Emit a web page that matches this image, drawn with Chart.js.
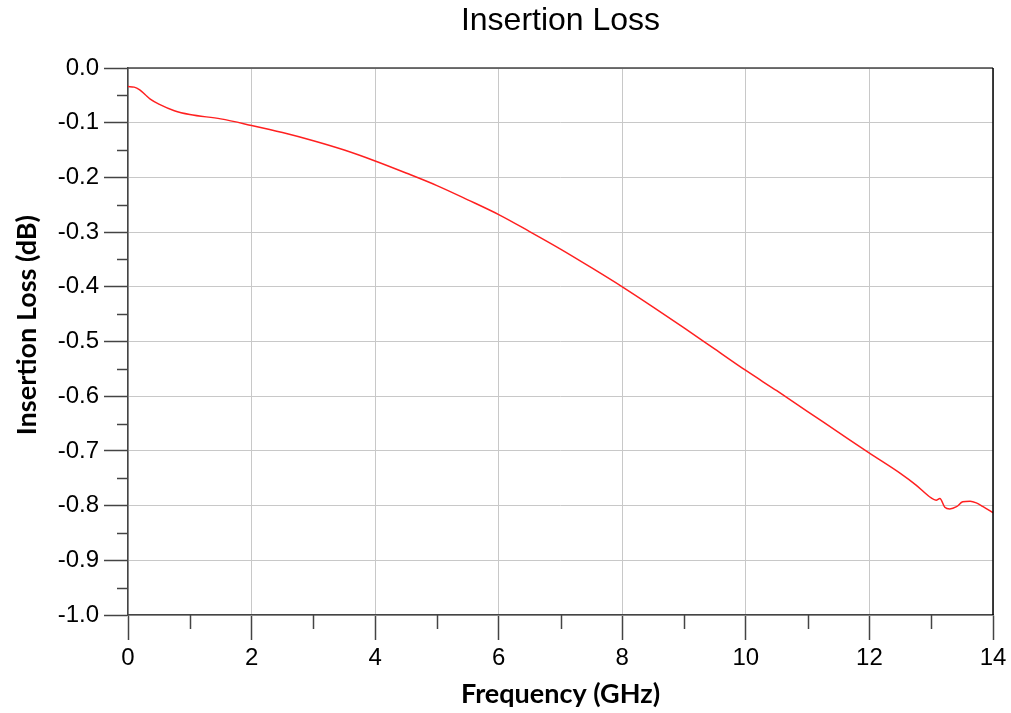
<!DOCTYPE html>
<html>
<head>
<meta charset="utf-8">
<script src="https://cdn.jsdelivr.net/npm/chart.js@4/dist/chart.umd.min.js"></script>
<style>
  html, body { margin: 0; padding: 0; background: #fff; }
  #wrap { width: 1011px; height: 713px; }
</style>
</head>
<body>
<div id="wrap"><canvas id="chart" width="1011" height="713"></canvas></div>
<script>
const freqs = [0, 0.1, 0.19, 0.28, 0.36, 0.5, 0.75, 1, 1.5, 2, 2.5, 3, 3.5, 4, 4.5, 5, 5.5, 6, 6.5, 7, 7.5, 8, 8.5, 9, 9.5, 10, 10.5, 11, 11.5, 12, 12.5, 12.75, 13, 13.08, 13.14, 13.22, 13.3, 13.41, 13.51, 13.63, 13.73, 13.84, 14];
const loss = [-0.034, -0.035, -0.040, -0.049, -0.057, -0.066, -0.078, -0.085, -0.093, -0.105, -0.118, -0.133, -0.150, -0.170, -0.192, -0.215, -0.241, -0.268, -0.299, -0.331, -0.365, -0.400, -0.437, -0.475, -0.514, -0.553, -0.590, -0.628, -0.666, -0.704, -0.741, -0.762, -0.786, -0.790, -0.787, -0.803, -0.806, -0.802, -0.793, -0.792, -0.795, -0.802, -0.813];

const titleText = 'Insertion Loss';
const xTitle = 'Frequency (GHz)';
const yTitle = 'Insertion Loss (dB)';

const points = freqs.map((f, i) => ({ x: f, y: loss[i] }));

const frame = {
  id: 'frame',
  afterDraw(chart) {
    const { ctx, chartArea, scales } = chart;
    const xs = scales.x;
    const ys = scales.y;
    ctx.save();
    ctx.lineWidth = 1.5;
    ctx.strokeStyle = '#444';
    // minor ticks
    for (let v = 1; v < 14; v += 2) {
      const px = Math.round(xs.getPixelForValue(v)) + 0.5;
      ctx.beginPath();
      ctx.moveTo(px, chartArea.bottom);
      ctx.lineTo(px, chartArea.bottom + 14);
      ctx.stroke();
    }
    for (let i = 0; i < 10; i++) {
      const py = Math.round(ys.getPixelForValue(-0.05 - i * 0.1)) + 0.5;
      ctx.beginPath();
      ctx.moveTo(chartArea.left - 11, py);
      ctx.lineTo(chartArea.left, py);
      ctx.stroke();
    }
    // top and right border
    ctx.beginPath();
    ctx.moveTo(chartArea.left, chartArea.top);
    ctx.lineTo(chartArea.right, chartArea.top);
    ctx.stroke();
    ctx.strokeStyle = '#000';
    ctx.beginPath();
    ctx.moveTo(chartArea.right, chartArea.top);
    ctx.lineTo(chartArea.right, chartArea.bottom);
    ctx.stroke();
    ctx.restore();
  }
};

new Chart(document.getElementById('chart'), {
  type: 'line',
  data: {
    datasets: [{
      data: points,
      borderColor: '#ff2020',
      borderWidth: 1.5,
      pointRadius: 0,
      fill: false,
      cubicInterpolationMode: 'monotone'
    }]
  },
  options: {
    responsive: false,
    animation: false,
    layout: { padding: { left: 0, right: 18, top: 0, bottom: 0 } },
    plugins: {
      legend: { display: false },
      tooltip: { enabled: false },
      title: {
        display: true,
        fullSize: false,
        text: titleText,
        color: '#000',
        font: { family: 'Liberation Sans, Arial', size: 32, weight: 'normal' },
        padding: { top: 2, bottom: 27.6 }
      }
    },
    scales: {
      x: {
        type: 'linear',
        min: 0,
        max: 14,
        afterFit(scale) { scale.height = 98; },
        ticks: {
          stepSize: 2,
          color: '#000',
          padding: 4,
          maxRotation: 0,
          font: { family: 'Liberation Sans, Arial', size: 24 }
        },
        grid: { color: '#c8c8c8', lineWidth: 1, tickLength: 25, tickColor: '#444', tickWidth: 1.5 },
        border: { color: '#444', width: 1.5 },
        title: {
          display: true,
          text: xTitle,
          color: '#000',
          font: { family: 'Lato', size: 27, weight: 'bold' },
          padding: { top: 0, bottom: 3 }
        }
      },
      y: {
        type: 'linear',
        min: -1,
        max: 0,
        afterFit(scale) { scale.width = 128; },
        ticks: {
          stepSize: 0.1,
          color: '#000',
          padding: 5,
          font: { family: 'Liberation Sans, Arial', size: 24 },
          callback: (v) => Number(v).toFixed(1)
        },
        grid: { color: '#c8c8c8', lineWidth: 1, tickLength: 24, tickColor: '#444', tickWidth: 1.5 },
        border: { color: '#444', width: 1.5 },
        title: {
          display: true,
          text: '     ' + yTitle,
          color: '#000',
          font: { family: 'Lato', size: 27, weight: 'bold' },
          padding: { top: 11, bottom: 0 }
        }
      }
    }
  },
  plugins: [frame]
});
</script>
</body>
</html>
